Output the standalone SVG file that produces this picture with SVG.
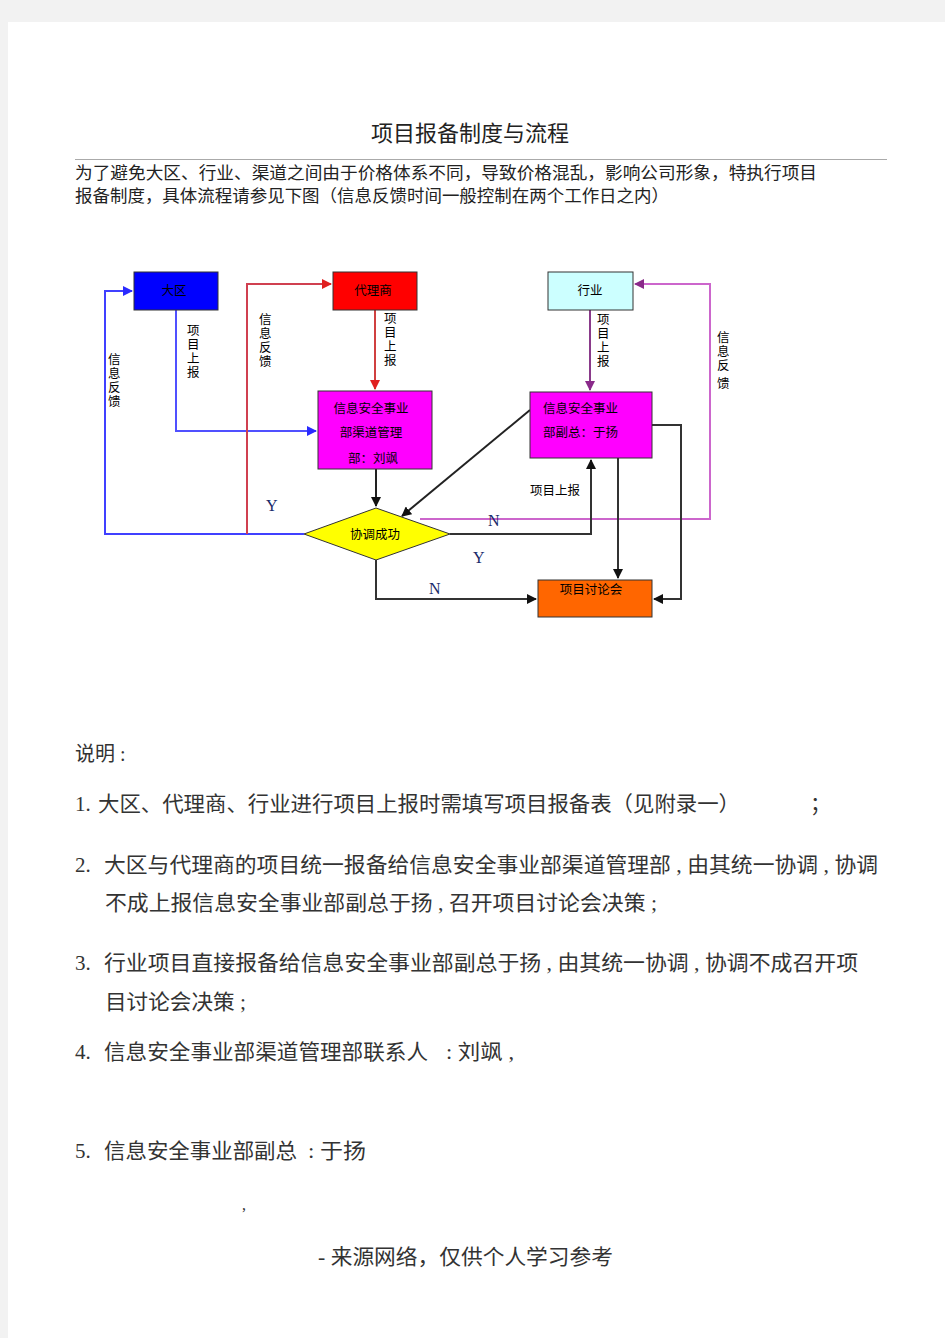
<svg xmlns="http://www.w3.org/2000/svg" width="945" height="1338" viewBox="0 0 945 1338">
<defs>
<style>
.t{font-family:"Liberation Sans","Noto Sans CJK SC",sans-serif;fill:#222}
.s{font-family:"Liberation Serif","Noto Sans CJK SC",serif;fill:#333}
.lbl{font-family:"Liberation Sans","Noto Sans CJK SC",sans-serif;font-size:12.5px;fill:#000}
.yn{font-family:"Liberation Serif",serif;font-size:16px;fill:#1a2a6a}
.box{stroke:#333;stroke-width:1}
.ln{fill:none;stroke-width:2}
</style>
<marker id="ab" viewBox="0 0 10 10" refX="9" refY="5" markerWidth="5" markerHeight="5" orient="auto"><path d="M0,0L10,5L0,10z" fill="#2a2aff"/></marker>
<marker id="ar" viewBox="0 0 10 10" refX="9" refY="5" markerWidth="5" markerHeight="5" orient="auto"><path d="M0,0L10,5L0,10z" fill="#e02020"/></marker>
<marker id="ap" viewBox="0 0 10 10" refX="9" refY="5" markerWidth="5" markerHeight="5" orient="auto"><path d="M0,0L10,5L0,10z" fill="#8a2a8a"/></marker>
<marker id="ak" viewBox="0 0 10 10" refX="9" refY="5" markerWidth="5" markerHeight="5" orient="auto"><path d="M0,0L10,5L0,10z" fill="#111"/></marker>
</defs>
<rect x="0" y="0" width="945" height="1338" fill="#f2f2f2"/>
<rect x="8" y="22" width="937" height="1316" fill="#fff"/>

<text class="t" x="470" y="141" font-size="22" text-anchor="middle" fill="#333">项目报备制度与流程</text>
<line x1="75" y1="159.5" x2="887" y2="159.5" stroke="#aaa" stroke-width="1"/>
<text class="t" x="75" y="179" font-size="17" textLength="742" lengthAdjust="spacingAndGlyphs">为了避免大区、行业、渠道之间由于价格体系不同，导致价格混乱，影响公司形象，特执行项目</text>
<text class="t" x="75" y="202" font-size="17" textLength="594" lengthAdjust="spacingAndGlyphs">报备制度，具体流程请参见下图（信息反馈时间一般控制在两个工作日之内）</text>

<g id="connectors">
<polyline class="ln" points="176,310 176,431 316,431" stroke="#5050ff" marker-end="url(#ab)"/>
<polyline class="ln" points="304,534 105,534 105,291 132,291" stroke="#4040ff" marker-end="url(#ab)"/>
<polyline class="ln" points="375,310 375,389" stroke="#d04040" marker-end="url(#ar)"/>
<polyline class="ln" points="247,534 247,284 331,284" stroke="#d04050" marker-end="url(#ar)"/>
<polyline class="ln" points="590,310 590,390" stroke="#8a3a8a" marker-end="url(#ap)"/>
<polyline class="ln" points="420,519 710,519 710,284 635,284" stroke="#cc66cc" marker-end="url(#ap)"/>
<polyline class="ln" points="376,469 376,506" stroke="#222" marker-end="url(#ak)"/>
<polyline class="ln" points="530,410 402,516" stroke="#222" marker-end="url(#ak)"/>
<polyline class="ln" points="450,534 591,534 591,460" stroke="#333" marker-end="url(#ak)"/>
<polyline class="ln" points="376,560 376,599 536,599" stroke="#333" marker-end="url(#ak)"/>
<polyline class="ln" points="618,458 618,578" stroke="#333" marker-end="url(#ak)"/>
<polyline class="ln" points="652,425 681,425 681,599 654,599" stroke="#333" marker-end="url(#ak)"/>
<text class="lbl"><tspan x="187" y="335">项</tspan><tspan x="187" y="349">目</tspan><tspan x="187" y="363">上</tspan><tspan x="187" y="377">报</tspan></text>
<text class="lbl"><tspan x="108" y="364">信</tspan><tspan x="108" y="378">息</tspan><tspan x="108" y="392">反</tspan><tspan x="108" y="406">馈</tspan></text>
<text class="lbl"><tspan x="259" y="324">信</tspan><tspan x="259" y="338">息</tspan><tspan x="259" y="352">反</tspan><tspan x="259" y="366">馈</tspan></text>
<text class="lbl"><tspan x="384" y="323">项</tspan><tspan x="384" y="337">目</tspan><tspan x="384" y="351">上</tspan><tspan x="384" y="365">报</tspan></text>
<text class="lbl"><tspan x="597" y="324">项</tspan><tspan x="597" y="338">目</tspan><tspan x="597" y="352">上</tspan><tspan x="597" y="366">报</tspan></text>
<text class="lbl" font-size="10"><tspan x="717" y="342">信</tspan><tspan x="717" y="356">息</tspan><tspan x="717" y="370">反</tspan><tspan x="717" y="388">馈</tspan></text>
<text class="lbl" x="530" y="495">项目上报</text>
<text class="yn" x="266" y="511">Y</text>
<text class="yn" x="488" y="526">N</text>
<text class="yn" x="473" y="563" font-size="18">Y</text>
<text class="yn" x="429" y="594" font-size="18">N</text>
</g>

<g id="daqu"><rect class="box" x="134" y="272" width="84" height="38" fill="#0000ff"/><text class="lbl" x="174" y="295" text-anchor="middle">大区</text></g>
<g id="dailishang"><rect class="box" x="333" y="272" width="84" height="38" fill="#ff0000"/><text class="lbl" x="373" y="295" text-anchor="middle">代理商</text></g>
<g id="hangye"><rect class="box" x="548" y="272" width="85" height="38" fill="#ccffff"/><text class="lbl" x="590" y="295" text-anchor="middle">行业</text></g>
<g id="qudao"><rect class="box" x="318" y="391" width="114" height="78" fill="#ff00ff"/><text class="lbl" x="371" y="413" text-anchor="middle">信息安全事业</text><text class="lbl" x="371" y="437" text-anchor="middle">部渠道管理</text><text class="lbl" x="373" y="463" text-anchor="middle">部：刘飒</text></g>
<g id="fuzong"><rect class="box" x="530" y="392" width="122" height="66" fill="#ff00ff"/><text class="lbl" x="543" y="413">信息安全事业</text><text class="lbl" x="543" y="437">部副总：于扬</text></g>
<g id="xietiao"><polygon points="304,534 376,508 450,534 376,560" fill="#ffff00" stroke="#333" stroke-width="1"/><text class="lbl" x="375" y="539" text-anchor="middle">协调成功</text></g>
<g id="taolunhui"><rect class="box" x="538" y="580" width="114" height="37" fill="#ff6600"/><text class="lbl" x="591" y="594" text-anchor="middle">项目讨论会</text></g>

<text class="s" x="75" y="761" font-size="20">说明 :</text>
<text class="s" x="75" y="811" font-size="21">1.</text>
<text class="s" x="98" y="811" font-size="21" textLength="642" lengthAdjust="spacingAndGlyphs">大区、代理商、行业进行项目上报时需填写项目报备表（见附录一）</text>
<text class="s" x="810" y="811" font-size="21">；</text>
<text class="s" x="75" y="872" font-size="21">2.</text>
<text class="s" x="104" y="872" font-size="21" textLength="774" lengthAdjust="spacingAndGlyphs">大区与代理商的项目统一报备给信息安全事业部渠道管理部 , 由其统一协调 , 协调</text>
<text class="s" x="105" y="910" font-size="21" textLength="552" lengthAdjust="spacingAndGlyphs">不成上报信息安全事业部副总于扬 , 召开项目讨论会决策 ;</text>
<text class="s" x="75" y="970" font-size="21">3.</text>
<text class="s" x="104" y="970" font-size="21" textLength="754" lengthAdjust="spacingAndGlyphs">行业项目直接报备给信息安全事业部副总于扬 , 由其统一协调 , 协调不成召开项</text>
<text class="s" x="105" y="1009" font-size="21" textLength="141" lengthAdjust="spacingAndGlyphs">目讨论会决策 ;</text>
<text class="s" x="75" y="1059" font-size="21">4.</text>
<text class="s" x="104" y="1059" font-size="21" textLength="324" lengthAdjust="spacingAndGlyphs">信息安全事业部渠道管理部联系人</text>
<text class="s" x="446" y="1059" font-size="21" textLength="68" lengthAdjust="spacingAndGlyphs">: 刘飒 ,</text>
<text class="s" x="75" y="1158" font-size="21">5.</text>
<text class="s" x="104" y="1158" font-size="21" textLength="193" lengthAdjust="spacingAndGlyphs">信息安全事业部副总</text>
<text class="s" x="308" y="1158" font-size="21" textLength="58" lengthAdjust="spacingAndGlyphs">: 于扬</text>
<text class="s" x="242" y="1210" font-size="16">,</text>
<text class="s" x="318" y="1264" font-size="21" textLength="295" lengthAdjust="spacingAndGlyphs">- 来源网络，仅供个人学习参考</text>
</svg>
